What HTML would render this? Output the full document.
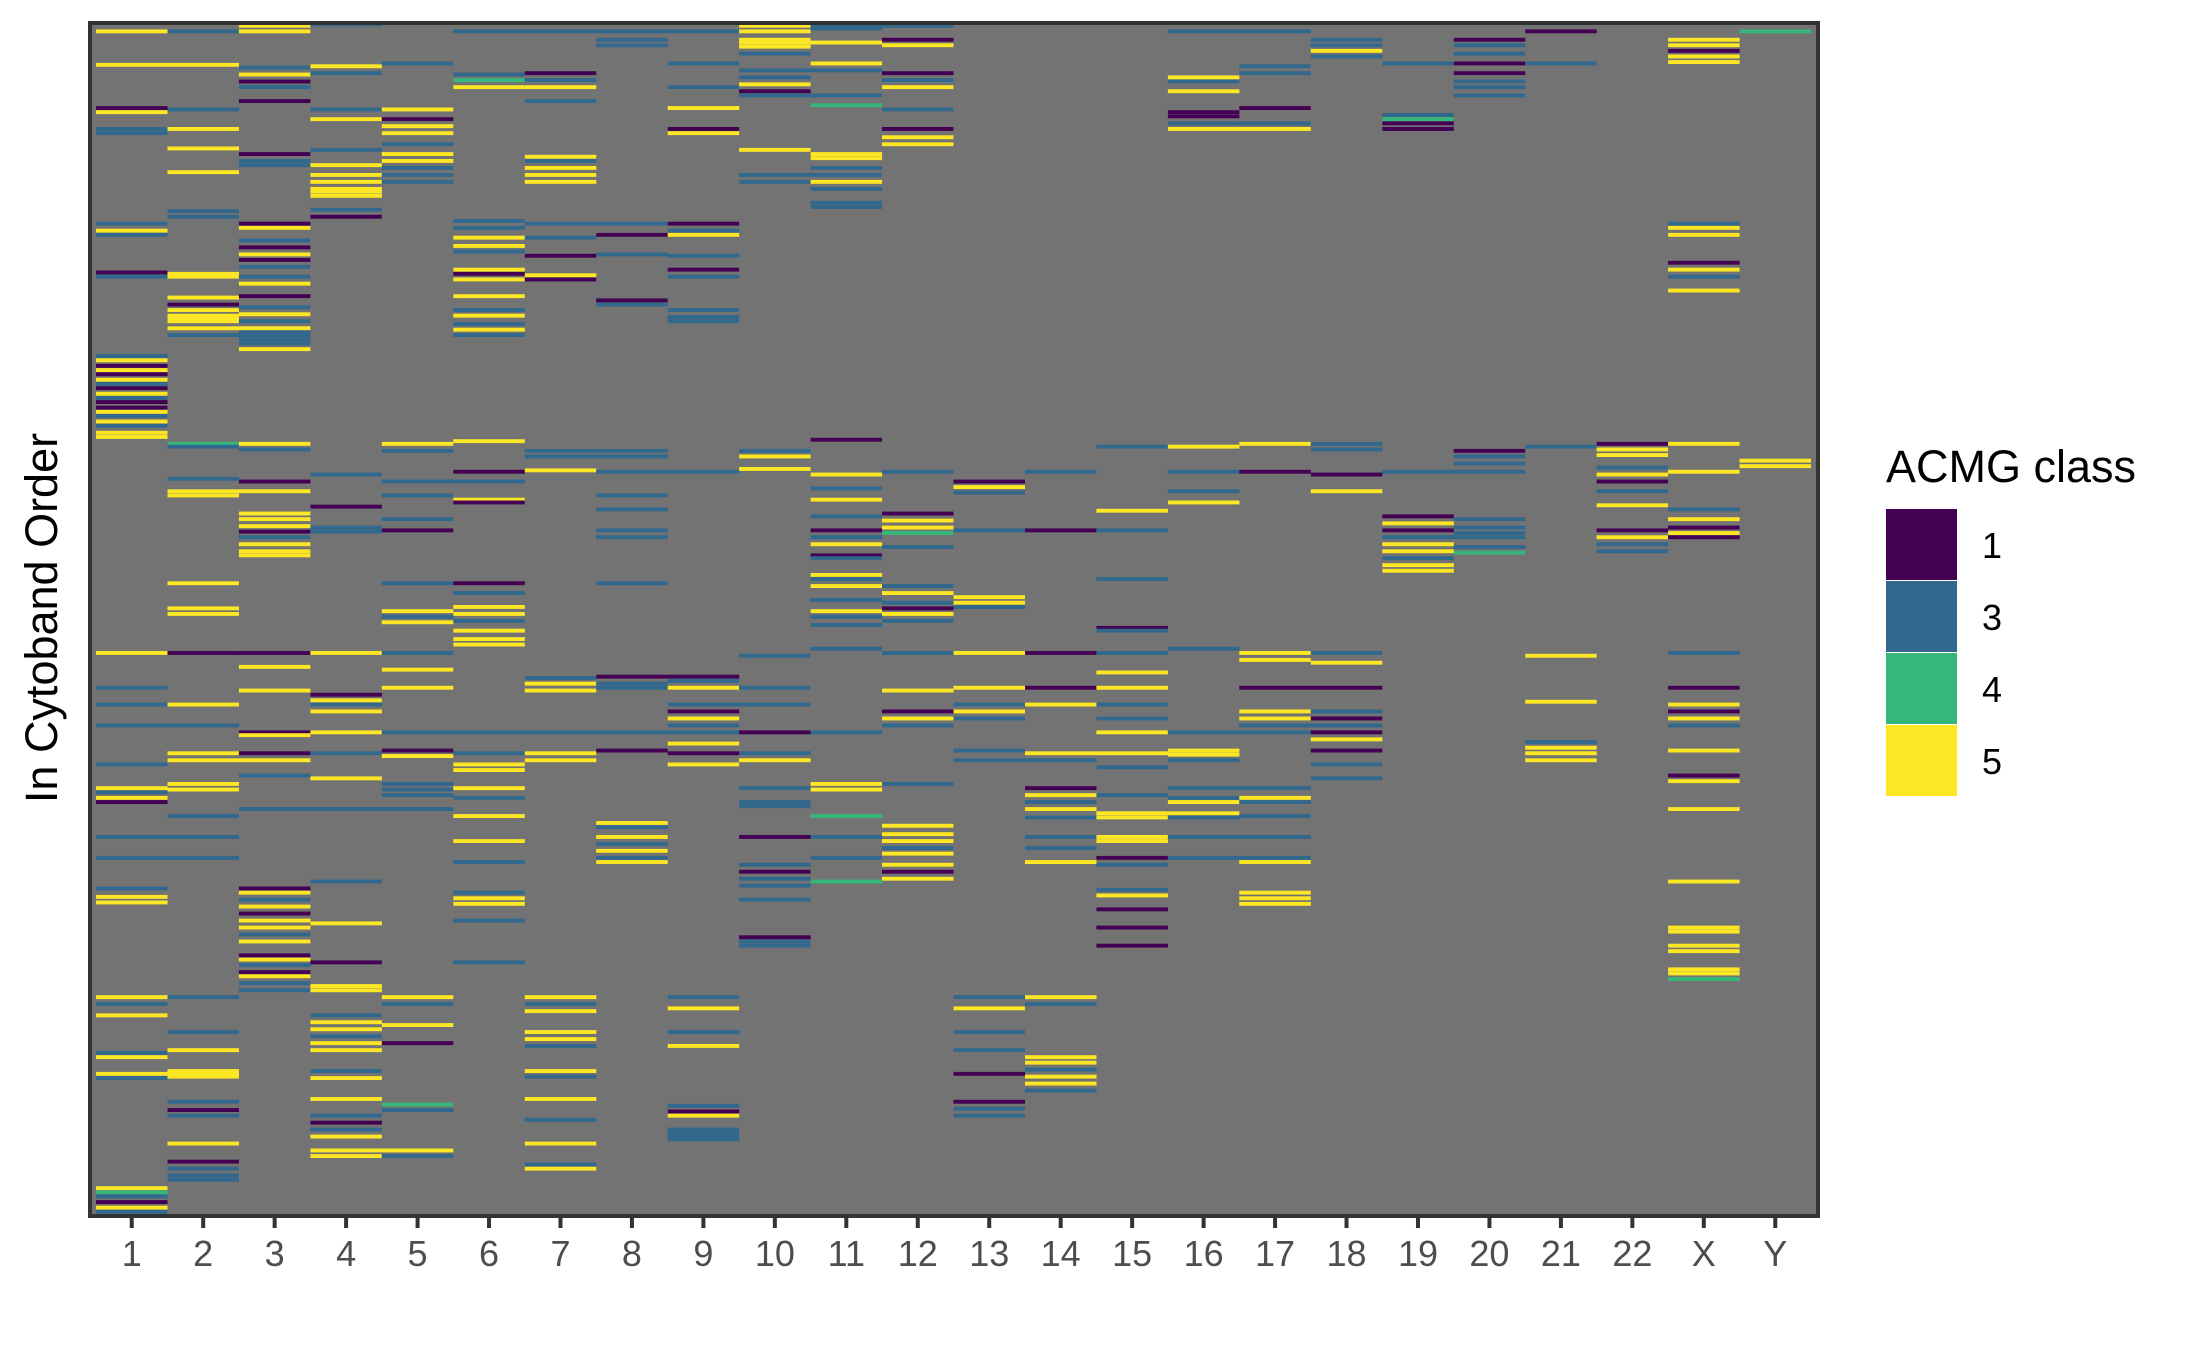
<!DOCTYPE html>
<html><head><meta charset="utf-8"><style>
html,body{margin:0;padding:0;background:#fff}
svg{display:block;font-family:"Liberation Sans",Arial,sans-serif}
</style></head><body>
<svg id="chart" width="2187" height="1350" viewBox="0 0 2187 1350" xmlns="http://www.w3.org/2000/svg">
<rect x="0" y="0" width="2187" height="1350" fill="#ffffff"/>
<rect x="90" y="23" width="1728" height="1193" fill="#737373"/>
<g id="tiles"></g>
<rect x="90" y="23" width="1728" height="1193" fill="none" stroke="#333333" stroke-width="4"/>
<g id="xaxis"></g>
<text transform="translate(57,618) rotate(-90)" text-anchor="middle" font-size="45" fill="#000">In Cytoband Order</text>
<g>
<text x="1886" y="482" font-size="45" fill="#000">ACMG class</text>
<g id="legend-keys"></g>
</g>
</svg>
<script>
const categories = ["1","2","3","4","5","6","7","8","9","10","11","12","13","14","15","16","17","18","19","20","21","22","X","Y"];
const classes = [1,3,4,5];
const classColors = ["#440154","#31688E","#35B779","#FDE725"];
// stripes per chromosome: "row:class" (row = cytoband order position, 16 top .. 872 bottom)
const s1 = "22:5 46:5 77:1 80:5 92:3 95:3 160:3 165:5 168:3 195:1 198:3 255:3 258:5 262:1 265:5 268:1 272:5 275:3 278:1 282:5 285:3 288:1 292:1 295:5 298:3 302:5 305:3 310:5 313:5 468:5 493:3 505:3 520:3 548:3 565:5 568:3 572:5 575:1 600:3 615:3 637:3 643:5 647:5 715:5 720:3 728:5 755:3 758:5 770:5 773:3 852:5 855:4 858:3 862:1 866:5 869:3";
const s2 = "22:3 46:5 78:3 92:5 106:5 123:5 151:3 155:3 196:5 198:5 213:5 218:1 222:5 226:5 228:5 230:5 235:5 240:3 318:4 320:3 343:3 352:5 355:5 418:5 436:5 440:5 468:1 505:5 520:3 540:5 545:5 562:5 566:5 585:3 600:3 615:3 715:3 740:3 753:5 768:5 770:5 772:5 790:3 796:1 800:3 820:5 833:1 838:3 843:3 846:3";
const s3 = "18:5 22:5 48:3 53:5 58:1 62:3 72:1 110:1 115:3 118:3 160:1 163:5 172:3 177:1 182:5 186:1 191:3 198:3 203:5 212:1 220:3 225:5 230:3 235:5 238:3 240:3 243:3 246:3 250:5 318:5 322:3 345:1 352:5 368:5 372:5 377:5 381:1 385:3 390:5 395:5 398:5 468:1 478:5 495:5 525:1 527:5 540:1 545:5 556:3 580:3 637:1 640:5 645:3 650:5 655:1 660:5 665:5 670:3 675:5 685:1 688:5 692:3 697:1 700:5 705:3 710:3";
const s4 = "17:3 47:5 52:3 78:3 85:5 107:3 118:5 125:5 130:5 135:5 137:5 140:5 150:3 155:1 340:3 363:1 378:3 381:3 468:5 498:1 502:5 505:3 510:5 525:5 540:3 558:5 580:3 632:3 662:5 690:1 707:5 710:5 728:3 733:5 738:5 743:3 748:5 753:5 768:3 773:5 788:5 800:3 805:1 810:3 815:5 825:5 829:5";
const s5 = "45:3 78:5 85:1 90:5 95:5 103:3 110:5 115:5 120:3 125:3 130:3 318:5 323:3 345:3 355:3 372:3 380:1 418:3 438:5 442:3 446:5 468:3 480:5 493:5 525:3 538:1 542:5 562:3 566:3 570:3 580:3 715:5 720:3 735:5 748:1 792:4 796:3 825:5 829:3";
const s6 = "22:3 53:3 57:4 62:5 158:3 163:3 170:5 176:5 180:3 193:5 196:1 200:5 212:5 222:3 226:5 232:3 236:5 240:3 316:5 338:1 345:3 358:5 360:1 418:1 425:3 435:5 440:5 445:3 452:5 458:5 462:5 525:3 540:3 548:5 552:5 565:5 572:3 585:5 603:5 618:3 640:3 644:5 648:5 660:3 690:3";
const s7 = "22:3 52:1 57:3 62:5 72:3 112:5 115:3 120:5 125:5 130:5 160:3 170:3 183:1 197:5 200:1 323:3 327:3 337:5 486:3 490:5 495:5 525:3 540:5 545:5 715:5 720:3 725:5 740:5 745:5 750:3 768:5 772:3 788:5 803:3 820:5 835:3 838:5";
const s8 = "22:3 28:3 32:3 160:3 168:1 182:3 215:1 218:3 323:3 327:3 338:3 355:3 365:3 380:3 385:3 418:3 485:1 490:3 493:3 525:3 538:1 590:5 593:3 600:5 605:3 610:5 615:3 618:5";
const s9 = "22:3 45:3 62:3 77:5 92:1 95:5 160:1 165:3 168:5 183:3 193:1 198:3 222:3 227:3 230:3 338:3 485:1 488:3 493:5 505:3 510:1 515:5 520:3 525:3 533:5 540:1 548:5 715:3 723:5 740:3 750:5 793:3 797:1 800:5 810:3 813:3 815:3 817:3";
const s10 = "18:5 22:5 28:5 30:5 33:5 38:3 50:3 55:3 60:5 65:1 68:3 107:5 125:3 130:3 323:3 327:5 336:5 470:3 493:3 505:3 525:1 540:3 545:5 565:3 575:3 578:3 600:1 620:3 625:1 630:3 635:3 645:3 672:1 675:3 678:3";
const s11 = "18:3 20:3 30:5 45:5 50:3 68:3 75:4 110:5 113:5 120:3 125:3 130:5 135:3 145:3 148:3 315:1 340:5 350:3 358:5 370:3 380:1 385:3 390:5 398:1 400:3 412:5 415:3 420:5 430:3 438:5 442:3 448:3 465:3 525:3 562:5 566:5 585:4 600:3 615:3 632:4";
const s12 = "18:3 28:1 32:5 52:1 57:3 62:5 78:3 92:1 98:5 103:5 338:3 368:1 373:5 378:5 382:4 392:3 420:3 425:5 432:3 436:1 440:5 445:3 468:3 495:5 510:1 515:5 520:3 562:3 592:5 598:5 603:5 608:3 612:5 620:5 625:1 630:5";
const s13 = "345:1 349:5 353:3 380:3 428:5 432:5 435:3 468:5 493:5 505:3 510:5 515:3 538:3 545:3 715:3 723:5 740:3 753:3 770:1 790:1 795:3 800:3";
const s14 = "338:3 380:1 468:1 493:1 505:5 540:5 545:3 565:1 570:5 575:3 580:5 586:3 600:3 608:3 618:5 715:5 720:3 758:5 762:5 767:3 772:5 777:5 782:3";
const s15 = "320:3 366:5 380:3 415:3 450:1 452:3 468:3 482:5 493:5 505:3 515:3 525:5 540:5 550:3 570:3 583:5 586:5 600:5 603:5 615:1 620:3 638:3 642:5 652:1 665:1 678:1";
const s16 = "22:3 55:5 58:3 65:5 80:1 83:1 88:3 92:5 320:5 338:3 352:3 360:5 465:3 525:3 538:5 541:5 545:3 565:3 572:3 575:5 583:5 586:3 600:3 615:3";
const s17 = "22:3 47:3 52:3 77:1 88:3 92:5 318:5 338:1 468:5 473:5 493:1 510:5 515:5 520:3 525:3 565:3 572:5 575:3 585:3 600:3 615:3 618:5 640:5 644:5 648:5";
const s18 = "28:3 32:3 36:5 40:3 318:3 322:3 340:1 352:5 468:3 475:5 493:1 510:3 515:1 520:3 525:1 530:5 538:1 548:3 558:3";
const s19 = "45:3 82:3 85:4 88:1 92:1 338:3 370:1 375:5 380:1 385:3 390:5 395:5 400:3 405:5 409:5";
const s20 = "28:1 32:3 38:3 45:1 52:1 58:3 62:3 68:3 323:1 327:3 332:3 338:3 372:3 378:3 382:3 385:3 392:3 396:4";
const s21 = "22:1 45:3 320:3 470:5 503:5 532:3 536:5 540:5 545:5";
const s22 = "318:1 322:5 326:5 335:3 340:5 345:1 352:3 362:5 380:1 385:5 390:3 395:3";
const sX = "28:5 32:5 36:1 40:5 44:5 160:3 163:5 168:5 188:1 193:5 198:3 208:5 318:5 338:5 365:3 372:5 378:1 382:5 385:1 468:3 493:1 505:5 510:1 515:5 520:3 538:5 556:1 560:5 580:5 632:5 665:5 668:5 678:5 682:5 695:5 698:5 702:4";
const sY = "22:4 330:5 334:5";
const stripeSets = [s1,s2,s3,s4,s5,s6,s7,s8,s9,s10,s11,s12,s13,s14,s15,s16,s17,s18,s19,s20,s21,s22,sX,sY];

const NS = "http://www.w3.org/2000/svg";
const PX0 = 96, PX1 = 1811, PY0 = 23, PY1 = 1216;
const RMIN = 16, RMAX = 872;
const bandW = (PX1 - PX0) / categories.length;
function xScale(i){ return PX0 + i * bandW; }
function yScale(r){ return PY0 + (r - RMIN) * (PY1 - PY0) / (RMAX - RMIN); }
function colorOf(c){ return classColors[classes.indexOf(c)]; }

const tiles = document.getElementById('tiles');
stripeSets.forEach((set, i) => {
  set.trim().split(/\s+/).forEach(tok => {
    const [r, c] = tok.split(':').map(Number);
    const rect = document.createElementNS(NS, 'rect');
    
    
    const y0 = yScale(r - 1.4), y1 = yScale(r + 1.4);
    rect.setAttribute('x', xScale(i).toFixed(1));
    rect.setAttribute('width', bandW.toFixed(1));
    rect.setAttribute('y', y0.toFixed(1));
    rect.setAttribute('height', (y1 - y0).toFixed(1));
    rect.setAttribute('fill', colorOf(c));
    tiles.appendChild(rect);
  });
});

const xaxis = document.getElementById('xaxis');
categories.forEach((cat, i) => {
  const cx = xScale(i) + bandW / 2;
  const t = document.createElementNS(NS, 'line');
  
  
  t.setAttribute('x1', cx); t.setAttribute('x2', cx);
  t.setAttribute('y1', 1218); t.setAttribute('y2', 1228);
  t.setAttribute('stroke', '#333333'); t.setAttribute('stroke-width', 4);
  xaxis.appendChild(t);
  const tx = document.createElementNS(NS, 'text');
  
  
  tx.setAttribute('x', cx); tx.setAttribute('y', 1266);
  tx.setAttribute('text-anchor', 'middle');
  tx.setAttribute('font-size', 36);
  tx.setAttribute('fill', '#4d4d4d');
  tx.textContent = cat;
  xaxis.appendChild(tx);
});

const lk = document.getElementById('legend-keys');
classes.forEach((c, i) => {
  const y = 509 + i * 72;
  const r = document.createElementNS(NS, 'rect');
  
  
  r.setAttribute('x', 1886); r.setAttribute('y', y);
  r.setAttribute('width', 71); r.setAttribute('height', 71);
  r.setAttribute('fill', classColors[i]);
  lk.appendChild(r);
  const t = document.createElementNS(NS, 'text');
  
  
  t.setAttribute('x', 1982); t.setAttribute('y', y + 49);
  t.setAttribute('font-size', 36);
  t.setAttribute('fill', '#000');
  t.textContent = String(c);
  lk.appendChild(t);
});
</script>
</body></html>
